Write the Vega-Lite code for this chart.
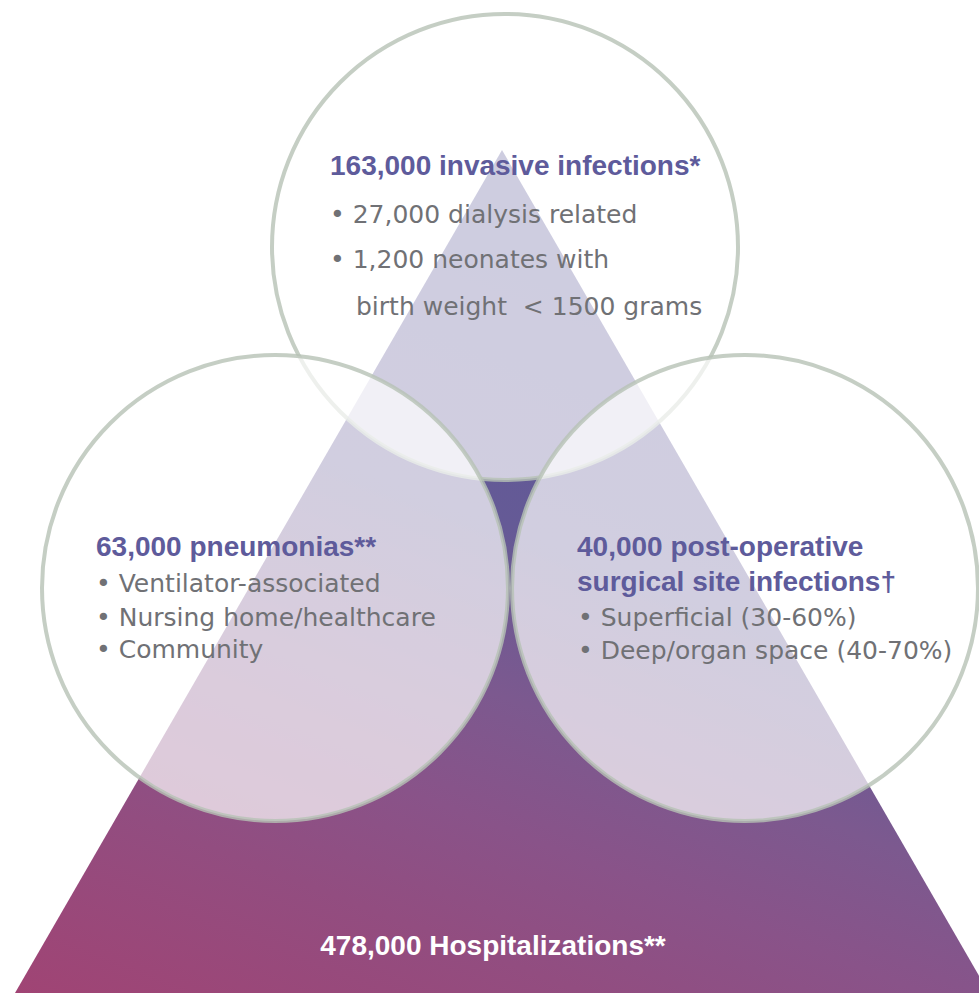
{
  "$schema": "https://vega.github.io/schema/vega-lite/v6.json",
  "width": 979,
  "height": 993,
  "autosize": "none",
  "padding": 0,
  "background": "white",
  "config": {"view": {"stroke": null}},
  "datasets": {
    "triangle": [
      {"x": 15, "y": 993, "base": 993},
      {"x": 502, "y": 150, "base": 993},
      {"x": 989, "y": 993, "base": 993}
    ],
    "circles": [
      {"name": "invasive infections", "x": 505, "y": 247},
      {"name": "pneumonias", "x": 275, "y": 588},
      {"name": "surgical site infections", "x": 745, "y": 588}
    ],
    "titles": [
      {"label": "163,000 invasive infections*", "x": 330, "y": 175},
      {"label": "63,000 pneumonias**", "x": 96, "y": 556},
      {"label": "40,000 post-operative", "x": 577, "y": 556},
      {"label": "surgical site infections†", "x": 577, "y": 591}
    ],
    "body": [
      {"label": "• 27,000 dialysis related", "x": 330, "y": 223},
      {"label": "• 1,200 neonates with", "x": 330, "y": 268},
      {"label": "birth weight\u00a0 < 1500 grams", "x": 356, "y": 315},
      {"label": "• Ventilator-associated", "x": 96, "y": 592},
      {"label": "• Nursing home/healthcare", "x": 96, "y": 626},
      {"label": "• Community", "x": 96, "y": 658},
      {"label": "• Superficial (30-60%)", "x": 578, "y": 626},
      {"label": "• Deep/organ space (40-70%)", "x": 578, "y": 659}
    ],
    "base": [
      {"label": "478,000 Hospitalizations**", "x": 493, "y": 955}
    ]
  },
  "layer": [
    {
      "data": {"name": "triangle"},
      "mark": {
        "type": "area",
        "interpolate": "linear",
        "clip": true,
        "fill": {
          "gradient": "linear",
          "x1": 0, "y1": 1, "x2": 0.45, "y2": 0,
          "stops": [
            {"offset": 0, "color": "#a04474"},
            {"offset": 0.22, "color": "#924d80"},
            {"offset": 0.35, "color": "#895389"},
            {"offset": 0.48, "color": "#7c598f"},
            {"offset": 0.65, "color": "#655a96"},
            {"offset": 1, "color": "#5a5898"}
          ]
        }
      },
      "encoding": {
        "x": {"field": "x", "type": "quantitative", "scale": {"domain": [0, 979], "nice": false, "zero": false}, "axis": null},
        "y": {"field": "y", "type": "quantitative", "scale": {"domain": [0, 993], "nice": false, "zero": false, "reverse": true}, "axis": null},
        "y2": {"field": "base"}
      }
    },
    {
      "data": {"name": "circles"},
      "mark": {
        "type": "point",
        "shape": "circle",
        "filled": true,
        "size": 217156,
        "opacity": 1,
        "fill": "white",
        "fillOpacity": 0.7,
        "stroke": "#b7c2b5",
        "strokeOpacity": 0.8,
        "strokeWidth": 4
      },
      "encoding": {
        "x": {"field": "x", "type": "quantitative", "scale": {"domain": [0, 979], "nice": false, "zero": false}, "axis": null},
        "y": {"field": "y", "type": "quantitative", "scale": {"domain": [0, 993], "nice": false, "zero": false, "reverse": true}, "axis": null}
      }
    },
    {
      "data": {"name": "titles"},
      "mark": {
        "type": "text",
        "align": "left",
        "baseline": "alphabetic",
        "font": "Liberation Sans",
        "fontWeight": "bold",
        "fontSize": 28,
        "color": "#5e5b9b"
      },
      "encoding": {
        "x": {"field": "x", "type": "quantitative", "scale": {"domain": [0, 979], "nice": false, "zero": false}, "axis": null},
        "y": {"field": "y", "type": "quantitative", "scale": {"domain": [0, 993], "nice": false, "zero": false, "reverse": true}, "axis": null},
        "text": {"field": "label"}
      }
    },
    {
      "data": {"name": "body"},
      "mark": {
        "type": "text",
        "align": "left",
        "baseline": "alphabetic",
        "font": "DejaVu Sans",
        "fontWeight": "normal",
        "fontSize": 25,
        "color": "#707175"
      },
      "encoding": {
        "x": {"field": "x", "type": "quantitative", "scale": {"domain": [0, 979], "nice": false, "zero": false}, "axis": null},
        "y": {"field": "y", "type": "quantitative", "scale": {"domain": [0, 993], "nice": false, "zero": false, "reverse": true}, "axis": null},
        "text": {"field": "label"}
      }
    },
    {
      "data": {"name": "base"},
      "mark": {
        "type": "text",
        "align": "center",
        "baseline": "alphabetic",
        "font": "Liberation Sans",
        "fontWeight": "bold",
        "fontSize": 28,
        "color": "white"
      },
      "encoding": {
        "x": {"field": "x", "type": "quantitative", "scale": {"domain": [0, 979], "nice": false, "zero": false}, "axis": null},
        "y": {"field": "y", "type": "quantitative", "scale": {"domain": [0, 993], "nice": false, "zero": false, "reverse": true}, "axis": null},
        "text": {"field": "label"}
      }
    }
  ]
}
